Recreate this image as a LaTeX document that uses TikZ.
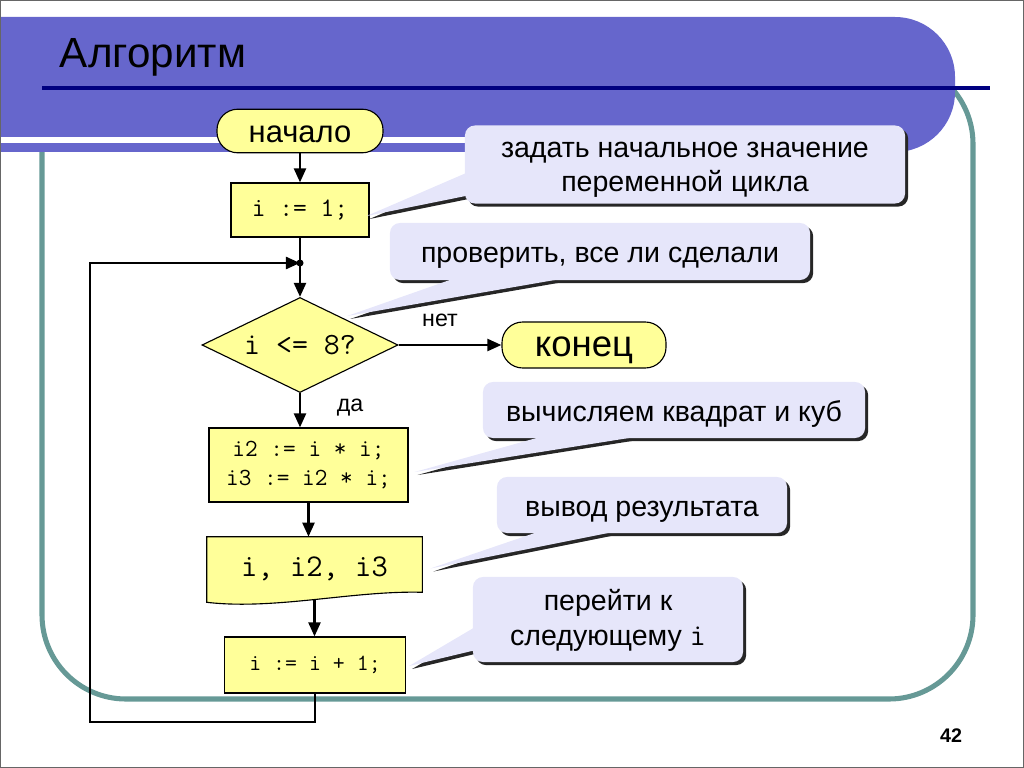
\documentclass[tikz,border=0pt]{standalone}
\usepackage{fontspec}
\setmainfont{Liberation Sans}
\usetikzlibrary{shapes.geometric,arrows.meta,shadows,calc}

\definecolor{band}{RGB}{102,102,204}
\definecolor{navy}{RGB}{0,0,128}
\definecolor{frame}{RGB}{102,153,150}
\definecolor{yel}{RGB}{255,255,153}
\definecolor{lav}{RGB}{230,230,250}

\pgfdeclarelayer{under}
\pgfsetlayers{under,main}

% struts for the sans labels
\newcommand{\nstrut}{\rule[-7pt]{0pt}{30.2pt}}
\newcommand{\tstrut}{\rule[-7pt]{0pt}{31pt}}

% tail of a callout: two base points and the tip
\newcommand{\calloutTail}[3]{%
  \begin{pgfonlayer}{under}
    \fill[black!85] ([shift={(3,3)}]#1) -- ([shift={(3,3)}]#2) -- ([shift={(3,3)}]#3) -- cycle;
  \end{pgfonlayer}
  \fill[lav] (#1) -- (#2) -- (#3) -- cycle;}

\begin{document}
\begin{tikzpicture}[x=0.025cm,y=-0.025cm,
  blk/.style={draw=black,line width=0.8pt,fill=yel,rectangle,inner sep=0pt},
  term/.style={blk,rounded corners=0.52cm,execute at begin node=\tstrut},
  code/.style={font=\ttfamily\fontsize{17.5}{21}\selectfont},
  note/.style={fill=lav,rounded corners=0.25cm,inner sep=0pt,align=center,
    font=\fontsize{20.3}{24.5}\selectfont,
    execute at begin node=\nstrut,execute at end node=\nstrut,
    drop shadow={opacity=1,fill=black!85,shadow xshift=2.2pt,shadow yshift=-2.2pt}},
  lin/.style={line width=1.8pt},
  arr/.style={lin,-{Triangle[length=10pt,width=8.5pt]}}]
\useasboundingbox (0,0) rectangle (1024,768);

% slide background
\draw[frame,line width=3.6pt,rounded corners=2.1cm] (42,60) rectangle (973,699);
\fill[band] (0,17) {[rounded corners=1.5cm] -- (955,17) -- (955,152)} -- (0,152) -- cycle;
\fill[white] (0,137) rectangle (905,143);
\draw[navy,line width=3.2pt] (42,88) -- (990,88);
\draw[black!60,line width=0.7pt] (0.5,0.5) rectangle (1023.5,767.5);
\node[anchor=base west,font=\fontsize{30}{36}\selectfont] (title) at (55,68) {Алгоритм};
\node[font=\bfseries\fontsize{14}{16}\selectfont] (page) at (951,736) {42};

% flowchart
\node[term,minimum width=4.15cm,minimum height=1.05cm,font=\fontsize{22}{26}\selectfont] (start) at (300,131) {начало};
\node[blk,code,minimum width=3.45cm,minimum height=1.35cm,font=\ttfamily\fontsize{19}{22}\selectfont] (init) at (300,210) {i := 1;};
\coordinate (join) at (300,263);
\node[blk,diamond,aspect=2,minimum width=4.9cm,minimum height=2.375cm,font=\ttfamily\fontsize{22}{25}\selectfont] (cond) at (300,345) {i <= 8?};
\node[term,minimum width=4.1cm,minimum height=1.15cm,font=\fontsize{26}{30}\selectfont] (stop) at (584,345) {конец};
\node[blk,code,align=center,minimum width=4.975cm,minimum height=1.85cm] (calc) at (308.5,465) {i2 := i * i;\\i3 := i2 * i;};
\node[code,minimum width=5.375cm,minimum height=1.575cm,font=\ttfamily\fontsize{22.5}{25}\selectfont] (out) at (314.5,568.5) {i, i2, i3};
\begin{pgfonlayer}{under}
\draw[blk] (out.north west) -- (out.north east) -- ($(out.south east)+(0,-8)$)
  .. controls ($(out.south)+(40,-10)$) and ($(out.south)+(-40,10)$) .. ($(out.south west)+(0,2)$) -- cycle;
\end{pgfonlayer}
\node[blk,code,minimum width=4.525cm,minimum height=1.4cm,font=\ttfamily\fontsize{16.5}{20}\selectfont] (step) at (315,665) {i := i + 1;};
\coordinate (bot) at (90,722);

\node[font=\fontsize{16.5}{19}\selectfont] (no) at (440,320) {нет};
\node[font=\fontsize{16.5}{19}\selectfont] (yes) at (350,408) {да};

\draw[arr] (start) -- (init);
\draw[lin] (init) -- (join);
\fill (join) circle (2.5pt);
\draw[arr] (join) -- (cond);
\draw[arr] (cond) -- (stop);
\draw[arr] (cond.south) -- (cond.south |- calc.north);
\draw[arr] (calc.south) -- (calc.south |- out.north);
\draw[arr] (out.south) -- (out.south |- step.north);
\draw[arr] (step.south) |- (bot) |- (join);

% callouts
\node[note,minimum width=11cm,minimum height=1.95cm] (n1) at (685,164.5) {\rule{0pt}{21pt}задать начальное значение\\переменной цикла};
\node[note,minimum width=10.5cm,minimum height=1.425cm] (n2) at (600,251.5) {проверить, все ли сделали};
\node[note,minimum width=9.55cm,minimum height=1.4cm] (n3) at (674,410) {вычисляем квадрат и куб};
\node[note,minimum width=7.25cm,minimum height=1.4cm] (n4) at (642,505) {вывод результата};
\node[note,minimum width=6.75cm,minimum height=2.125cm] (n5) at (608,619.5) {\rule{0pt}{19pt}перейти к\\следующему {\ttfamily\fontsize{22}{24}\selectfont i}};

\coordinate (t1a) at ($(n1.south west)+(2,-31)$);
\coordinate (t1b) at ($(n1.south west)+(2,-8)$);
\coordinate (t1c) at ($(init.east)+(-3,6)$);
\coordinate (t2a) at ($(n2.south west)+(65,-2)$);
\coordinate (t2b) at ($(n2.south west)+(175,-2)$);
\coordinate (t2c) at ($(cond.north east)+(-2,-5)$);
\coordinate (t3a) at ($(n3.south west)+(60,-2)$);
\coordinate (t3b) at ($(n3.south west)+(157,-2)$);
\coordinate (t3c) at ($(calc.east)+(6,7)$);
\coordinate (t4a) at ($(n4.south west)+(43,-2)$);
\coordinate (t4b) at ($(n4.south west)+(120,-2)$);
\coordinate (t4c) at ($(out.east)+(8,0)$);
\coordinate (t5a) at ($(n5.south west)+(2,-35)$);
\coordinate (t5b) at ($(n5.south west)+(2,-12)$);
\coordinate (t5c) at ($(step.east)+(3,1)$);

\calloutTail{t1a}{t1b}{t1c}
\calloutTail{t2a}{t2b}{t2c}
\calloutTail{t3a}{t3b}{t3c}
\calloutTail{t4a}{t4b}{t4c}
\calloutTail{t5a}{t5b}{t5c}

\end{tikzpicture}
\end{document}
